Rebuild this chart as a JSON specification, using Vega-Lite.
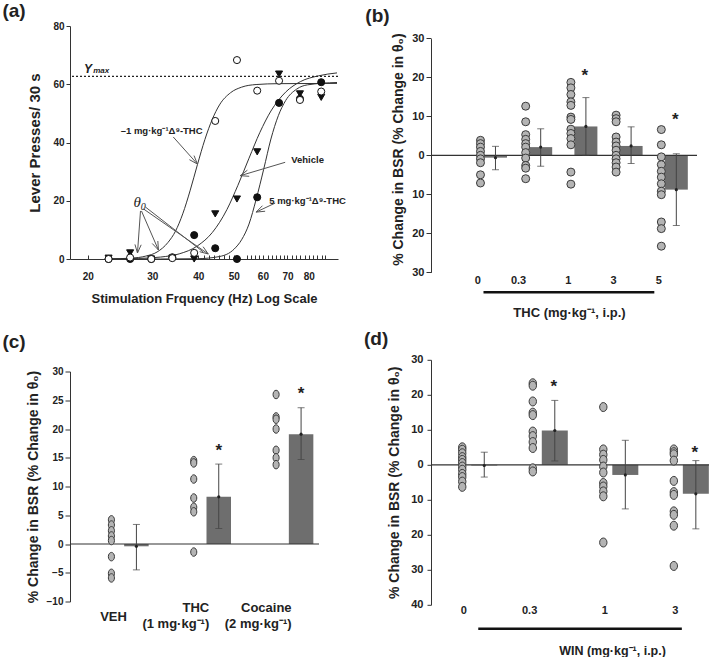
{
 "$schema": "https://vega.github.io/schema/vega-lite/v6.json",
 "padding": {"left": 2, "top": 2, "right": 0, "bottom": 0},
 "background": "white",
 "spacing": 18,
 "config": {
  "font": "Liberation Sans",
  "view": {"stroke": null},
  "axis": {"labelFont": "Liberation Sans", "labelFontWeight": "bold", "titleFont": "Liberation Sans", "titleFontWeight": "bold", "labelColor": "#222", "titleColor": "#222", "domainColor": "#333", "tickColor": "#333", "grid": false, "labelOverlap": false},
  "title": {"font": "Liberation Sans", "fontWeight": "bold", "fontSize": 19, "anchor": "start", "frame": "group", "color": "#222"}
 },
 "datasets": {
  "a_pts": [
   {"hz": 22.8, "val": 0, "group": "THC5"}, {"hz": 26.1, "val": 0, "group": "THC5"}, {"hz": 29.8, "val": 0, "group": "THC5"}, {"hz": 34.0, "val": 0.6, "group": "THC5"}, {"hz": 39.0, "val": 8.2, "group": "THC5"}, {"hz": 44.5, "val": 3.7, "group": "THC5"}, {"hz": 51.0, "val": 0, "group": "THC5"}, {"hz": 57.9, "val": 21.2, "group": "THC5"}, {"hz": 66.4, "val": 53.6, "group": "THC5"}, {"hz": 75.7, "val": 55.0, "group": "THC5"}, {"hz": 86.5, "val": 60.7, "group": "THC5"},
   {"hz": 22.8, "val": 0.3, "group": "VEH"}, {"hz": 26.1, "val": 2.1, "group": "VEH"}, {"hz": 29.8, "val": 0, "group": "VEH"}, {"hz": 34.0, "val": 0.3, "group": "VEH"}, {"hz": 39.0, "val": 0, "group": "VEH"}, {"hz": 44.5, "val": 15.5, "group": "VEH"}, {"hz": 51.0, "val": 20.6, "group": "VEH"}, {"hz": 57.9, "val": 36.8, "group": "VEH"}, {"hz": 66.4, "val": 63.5, "group": "VEH"}, {"hz": 75.7, "val": 56.7, "group": "VEH"}, {"hz": 86.5, "val": 55.5, "group": "VEH"},
   {"hz": 22.8, "val": 0, "group": "THC1"}, {"hz": 26.1, "val": 0.5, "group": "THC1"}, {"hz": 29.8, "val": 0, "group": "THC1"}, {"hz": 34.0, "val": 0.3, "group": "THC1"}, {"hz": 39.0, "val": 2.1, "group": "THC1"}, {"hz": 44.5, "val": 47.4, "group": "THC1"}, {"hz": 51.0, "val": 68.3, "group": "THC1"}, {"hz": 57.9, "val": 57.8, "group": "THC1"}, {"hz": 66.4, "val": 61.2, "group": "THC1"}, {"hz": 75.7, "val": 54.6, "group": "THC1"}, {"hz": 86.5, "val": 57.5, "group": "THC1"}
  ],
  "a_curves": [
   {"hz": 22.9, "val": 0.05, "group": "THC1"}, {"hz": 26.3, "val": 0.3, "group": "THC1"}, {"hz": 28.8, "val": 1.0, "group": "THC1"}, {"hz": 30.9, "val": 2.4, "group": "THC1"}, {"hz": 33.1, "val": 5.7, "group": "THC1"}, {"hz": 34.7, "val": 9.6, "group": "THC1"}, {"hz": 36.3, "val": 15.5, "group": "THC1"}, {"hz": 38.0, "val": 23.4, "group": "THC1"}, {"hz": 39.8, "val": 32.4, "group": "THC1"}, {"hz": 41.7, "val": 41.0, "group": "THC1"}, {"hz": 43.7, "val": 48.0, "group": "THC1"}, {"hz": 45.7, "val": 52.9, "group": "THC1"}, {"hz": 49.0, "val": 57.1, "group": "THC1"}, {"hz": 52.5, "val": 59.0, "group": "THC1"}, {"hz": 57.5, "val": 59.9, "group": "THC1"}, {"hz": 66.1, "val": 60.2, "group": "THC1"}, {"hz": 95.5, "val": 60.3, "group": "THC1"},
   {"hz": 22.9, "val": 0.04, "group": "VEH"}, {"hz": 27.5, "val": 0.21, "group": "VEH"}, {"hz": 31.6, "val": 0.67, "group": "VEH"}, {"hz": 35.5, "val": 1.76, "group": "VEH"}, {"hz": 39.8, "val": 4.5, "group": "VEH"}, {"hz": 43.7, "val": 9.1, "group": "VEH"}, {"hz": 47.9, "val": 17.0, "group": "VEH"}, {"hz": 51.3, "val": 25.3, "group": "VEH"}, {"hz": 55.0, "val": 34.6, "group": "VEH"}, {"hz": 58.9, "val": 43.5, "group": "VEH"}, {"hz": 63.1, "val": 50.8, "group": "VEH"}, {"hz": 69.2, "val": 57.3, "group": "VEH"}, {"hz": 75.9, "val": 60.9, "group": "VEH"}, {"hz": 85.1, "val": 62.9, "group": "VEH"}, {"hz": 95.5, "val": 63.9, "group": "VEH"},
   {"hz": 22.9, "val": 0, "group": "THC5"}, {"hz": 31.6, "val": 0.003, "group": "THC5"}, {"hz": 39.8, "val": 0.1, "group": "THC5"}, {"hz": 45.7, "val": 0.85, "group": "THC5"}, {"hz": 50.1, "val": 3.4, "group": "THC5"}, {"hz": 52.5, "val": 6.6, "group": "THC5"}, {"hz": 55.0, "val": 12.0, "group": "THC5"}, {"hz": 57.5, "val": 20.4, "group": "THC5"}, {"hz": 60.3, "val": 30.8, "group": "THC5"}, {"hz": 63.1, "val": 41.2, "group": "THC5"}, {"hz": 66.1, "val": 49.2, "group": "THC5"}, {"hz": 69.2, "val": 54.4, "group": "THC5"}, {"hz": 74.1, "val": 58.3, "group": "THC5"}, {"hz": 79.4, "val": 59.8, "group": "THC5"}, {"hz": 95.5, "val": 60.6, "group": "THC5"}
  ],
  "a_arrows": [
   {"hz": 34.2, "val": 41.9, "hz2": 39.8, "val2": 32.6}, {"hz": 39.8, "val": 32.6, "hz2": 38.96, "val2": 35.5}, {"hz": 39.8, "val": 32.6, "hz2": 37.85, "val2": 34.1},
   {"hz": 69.0, "val": 33.2, "hz2": 52.05, "val2": 28.6}, {"hz": 52.05, "val": 28.6, "hz2": 55.07, "val2": 28.4}, {"hz": 52.05, "val": 28.6, "hz2": 54.45, "val2": 30.5},
   {"hz": 64.8, "val": 19.2, "hz2": 57.5, "val2": 16.1}, {"hz": 57.5, "val": 16.1, "hz2": 60.85, "val2": 16.4}, {"hz": 57.5, "val": 16.1, "hz2": 59.84, "val2": 18.3},
   {"hz": 27.85, "val": 16.5, "hz2": 27.33, "val2": 2.06}, {"hz": 27.33, "val": 2.06, "hz2": 27.97, "val2": 4.88}, {"hz": 27.33, "val": 2.06, "hz2": 26.9, "val2": 5.01},
   {"hz": 28.02, "val": 16.5, "hz2": 31.17, "val2": 3.09}, {"hz": 31.17, "val": 3.09, "hz2": 31.05, "val2": 6.18}, {"hz": 31.17, "val": 3.09, "hz2": 29.98, "val2": 5.32},
   {"hz": 28.37, "val": 17.2, "hz2": 42.6, "val2": 1.72}, {"hz": 42.6, "val": 1.72, "hz2": 41.24, "val2": 4.22}, {"hz": 42.6, "val": 1.72, "hz2": 40.35, "val2": 2.51},
   {"hz": 28.72, "val": 17.85, "hz2": 41.29, "val2": 2.4}
  ],
  "b_dots": [
   {"dose": "0", "v": 3.85}, {"dose": "0", "v": 3.0}, {"dose": "0", "v": 2.1}, {"dose": "0", "v": 1.0}, {"dose": "0", "v": 0}, {"dose": "0", "v": -0.9}, {"dose": "0", "v": -1.9}, {"dose": "0", "v": -5.0}, {"dose": "0", "v": -7.1},
   {"dose": "0.3", "v": 12.6}, {"dose": "0.3", "v": 8.6}, {"dose": "0.3", "v": 5.3}, {"dose": "0.3", "v": 4.1}, {"dose": "0.3", "v": 3.0}, {"dose": "0.3", "v": 2.1}, {"dose": "0.3", "v": 0.7}, {"dose": "0.3", "v": -0.7}, {"dose": "0.3", "v": -2.6}, {"dose": "0.3", "v": -3.3}, {"dose": "0.3", "v": -6.0},
   {"dose": "1", "v": 18.7}, {"dose": "1", "v": 17.3}, {"dose": "1", "v": 15.6}, {"dose": "1", "v": 13.7}, {"dose": "1", "v": 12.8}, {"dose": "1", "v": 9.8}, {"dose": "1", "v": 9.2}, {"dose": "1", "v": 6.7}, {"dose": "1", "v": 5.6}, {"dose": "1", "v": 4.3}, {"dose": "1", "v": 2.7}, {"dose": "1", "v": -4.3}, {"dose": "1", "v": -7.4},
   {"dose": "3", "v": 10.3}, {"dose": "3", "v": 9.4}, {"dose": "3", "v": 8.6}, {"dose": "3", "v": 4.7}, {"dose": "3", "v": 3.4}, {"dose": "3", "v": 2.4}, {"dose": "3", "v": 1.3}, {"dose": "3", "v": 0}, {"dose": "3", "v": -0.9}, {"dose": "3", "v": -1.9}, {"dose": "3", "v": -3.0}, {"dose": "3", "v": -4.3},
   {"dose": "5", "v": 6.6}, {"dose": "5", "v": 2.7}, {"dose": "5", "v": -0.4}, {"dose": "5", "v": -2.4}, {"dose": "5", "v": -4.1}, {"dose": "5", "v": -5.6}, {"dose": "5", "v": -7.3}, {"dose": "5", "v": -9.2}, {"dose": "5", "v": -10.1}, {"dose": "5", "v": -17.1}, {"dose": "5", "v": -18.8}, {"dose": "5", "v": -23.3}
  ],
  "b_bars": [
   {"dose": "0", "mean": -0.6, "lo": -3.7, "hi": 2.3, "star": null},
   {"dose": "0.3", "mean": 2.1, "lo": -2.8, "hi": 6.8, "star": null},
   {"dose": "1", "mean": 7.4, "lo": 0, "hi": 14.8, "star": 21.3},
   {"dose": "3", "mean": 2.4, "lo": -2.1, "hi": 7.3, "star": null},
   {"dose": "5", "mean": -8.8, "lo": -18.0, "hi": 0.4, "star": 10.1}
  ],
  "c_dots": [
   {"g": "VEH", "v": 4.2}, {"g": "VEH", "v": 3.3}, {"g": "VEH", "v": 2.3}, {"g": "VEH", "v": 1.4}, {"g": "VEH", "v": 0.6}, {"g": "VEH", "v": -2.2}, {"g": "VEH", "v": -5.1}, {"g": "VEH", "v": -5.9},
   {"g": "THC", "v": 14.5}, {"g": "THC", "v": 14.1}, {"g": "THC", "v": 11.3}, {"g": "THC", "v": 8.0}, {"g": "THC", "v": 6.4}, {"g": "THC", "v": 5.6}, {"g": "THC", "v": -1.4},
   {"g": "Cocaine", "v": 26.0}, {"g": "Cocaine", "v": 22.1}, {"g": "Cocaine", "v": 21.7}, {"g": "Cocaine", "v": 20.0}, {"g": "Cocaine", "v": 16.3}, {"g": "Cocaine", "v": 15.0}, {"g": "Cocaine", "v": 13.8}
  ],
  "c_bars": [
   {"g": "VEH", "mean": -0.4, "lo": -4.5, "hi": 3.4, "star": null},
   {"g": "THC", "mean": 8.2, "lo": 2.7, "hi": 13.9, "star": 16.9},
   {"g": "Cocaine", "mean": 19.1, "lo": 14.7, "hi": 23.7, "star": 26.7}
  ],
  "d_dots": [
   {"dose": "0", "v": 5.0}, {"dose": "0", "v": 4.3}, {"dose": "0", "v": 3.3}, {"dose": "0", "v": 2.2}, {"dose": "0", "v": 1.4}, {"dose": "0", "v": 0.5}, {"dose": "0", "v": -0.5}, {"dose": "0", "v": -1.4}, {"dose": "0", "v": -2.6}, {"dose": "0", "v": -3.5}, {"dose": "0", "v": -4.8}, {"dose": "0", "v": -6.3},
   {"dose": "0.3", "v": 23.3}, {"dose": "0.3", "v": 22.6}, {"dose": "0.3", "v": 18.1}, {"dose": "0.3", "v": 14.9}, {"dose": "0.3", "v": 14.2}, {"dose": "0.3", "v": 9.5}, {"dose": "0.3", "v": 8.2}, {"dose": "0.3", "v": 6.5}, {"dose": "0.3", "v": 4.8}, {"dose": "0.3", "v": -1.0}, {"dose": "0.3", "v": -1.9},
   {"dose": "1", "v": 16.5}, {"dose": "1", "v": 4.4}, {"dose": "1", "v": 2.9}, {"dose": "1", "v": 1.4}, {"dose": "1", "v": -0.5}, {"dose": "1", "v": -2.2}, {"dose": "1", "v": -5.2}, {"dose": "1", "v": -6.2}, {"dose": "1", "v": -7.6}, {"dose": "1", "v": -9.0}, {"dose": "1", "v": -22.2},
   {"dose": "3", "v": 4.4}, {"dose": "3", "v": 3.6}, {"dose": "3", "v": 3.0}, {"dose": "3", "v": 1.2}, {"dose": "3", "v": -4.6}, {"dose": "3", "v": -7.8}, {"dose": "3", "v": -8.6}, {"dose": "3", "v": -13.3}, {"dose": "3", "v": -14.3}, {"dose": "3", "v": -17.4}, {"dose": "3", "v": -28.9}
  ],
  "d_bars": [
   {"dose": "0", "mean": -0.2, "lo": -3.5, "hi": 3.6, "star": null},
   {"dose": "0.3", "mean": 9.8, "lo": 1.1, "hi": 18.4, "star": 23.5},
   {"dose": "1", "mean": -2.9, "lo": -12.6, "hi": 7.0, "star": null},
   {"dose": "3", "mean": -8.3, "lo": -18.3, "hi": 1.2, "star": 4.6}
  ]
 },
 "hconcat": [
  {
   "spacing": 27.5,
   "vconcat": [
    {
     "width": 268, "height": 233,
     "title": {"text": "(a)", "dx": -67.6, "offset": 0},
     "layer": [
      {"data": {"name": "a_curves"}, "mark": {"type": "line", "color": "#333", "strokeWidth": 1, "interpolate": "monotone", "clip": true},
       "encoding": {"x": {"field": "hz", "type": "quantitative", "scale": {"type": "log", "domain": [17.9, 96.1], "nice": false}},
        "y": {"field": "val", "type": "quantitative", "scale": {"domain": [0, 80], "nice": false}},
        "detail": {"field": "group"}}},
      {"data": {"values": [{"val": 62.7}]}, "mark": {"type": "rule", "color": "#222", "strokeWidth": 1.3, "strokeDash": [2, 2]},
       "encoding": {"y": {"field": "val", "type": "quantitative", "scale": {"domain": [0, 80], "nice": false}}}},
      {"data": {"name": "a_arrows"}, "mark": {"type": "rule", "color": "#555", "strokeWidth": 1},
       "encoding": {"x": {"field": "hz", "type": "quantitative", "scale": {"type": "log", "domain": [17.9, 96.1], "nice": false}},
        "x2": {"field": "hz2"},
        "y": {"field": "val", "type": "quantitative", "scale": {"domain": [0, 80], "nice": false}},
        "y2": {"field": "val2"}}},
      {"data": {"name": "a_pts"}, "mark": {"type": "point", "size": 50, "strokeWidth": 1, "opacity": 1, "fillOpacity": 1, "stroke": "#111"},
       "encoding": {
        "x": {"field": "hz", "type": "quantitative", "scale": {"type": "log", "domain": [17.9, 96.1], "nice": false},
         "axis": {"title": "Stimulation Frquency (Hz) Log Scale", "values": [20, 30, 40, 41.6, 42.9, 44.2, 45.6, 47.1, 48.6, 50, 54.3, 55.6, 57, 58.5, 60, 62, 63.6, 65.2, 66.8, 68.5, 70, 72, 73.8, 75.7, 78.1, 80, 82.1, 84.2, 86.9, 88.5],
          "labelExpr": "indexof([20, 30, 40, 50, 60, 70, 80], datum.value) >= 0 ? '' + datum.value : ''", "labelOverlap": false, "labelFlush": false, "labelFontSize": 10, "tickSize": -4, "labelPadding": 16, "titleFontSize": 13, "titlePadding": 11}},
        "y": {"field": "val", "type": "quantitative", "scale": {"domain": [0, 80], "nice": false},
         "axis": {"title": "Lever Presses/ 30 s", "values": [0, 20, 40, 60, 80], "labelOverlap": false, "tickSize": 4, "labelPadding": 2, "labelFontSize": 10, "titleFontSize": 15, "titlePadding": 10}},
        "shape": {"field": "group", "type": "nominal", "scale": {"domain": ["THC1", "VEH", "THC5"], "range": ["circle", "triangle-down", "circle"]}, "legend": null},
        "fill": {"field": "group", "type": "nominal", "scale": {"domain": ["THC1", "VEH", "THC5"], "range": ["white", "#111", "#111"]}, "legend": null}
       }},
      {"data": {"values": [{"hz": 31.8, "val": 44.1, "label": "–1 mg·kg⁻¹Δ⁹-THC"}, {"hz": 79.4, "val": 34.0, "label": "Vehicle"}, {"hz": 79.4, "val": 20.0, "label": "5 mg·kg⁻¹Δ⁹-THC"}]},
       "mark": {"type": "text", "fontSize": 9.5, "fontWeight": "bold", "align": "center", "baseline": "middle", "color": "#222"},
       "encoding": {"x": {"field": "hz", "type": "quantitative", "scale": {"type": "log", "domain": [17.9, 96.1], "nice": false}},
        "y": {"field": "val", "type": "quantitative", "scale": {"domain": [0, 80], "nice": false}},
        "text": {"field": "label"}}},
      {"data": {"values": [{"hz": 27.3, "val": 19.4, "label": "θ"}]},
       "mark": {"type": "text", "font": "Liberation Serif", "fontSize": 15, "fontStyle": "italic", "align": "center", "baseline": "middle", "color": "#222"},
       "encoding": {"x": {"field": "hz", "type": "quantitative", "scale": {"type": "log", "domain": [17.9, 96.1], "nice": false}},
        "y": {"field": "val", "type": "quantitative", "scale": {"domain": [0, 80], "nice": false}},
        "text": {"field": "label"}}},
      {"data": {"values": [{"hz": 27.9, "val": 17.9, "label": "0"}]},
       "mark": {"type": "text", "font": "Liberation Serif", "fontSize": 10, "fontStyle": "italic", "align": "left", "baseline": "middle", "color": "#222"},
       "encoding": {"x": {"field": "hz", "type": "quantitative", "scale": {"type": "log", "domain": [17.9, 96.1], "nice": false}},
        "y": {"field": "val", "type": "quantitative", "scale": {"domain": [0, 80], "nice": false}},
        "text": {"field": "label"}}},
      {"data": {"values": [{"hz": 20.04, "val": 65.4, "label": "Y"}]},
       "mark": {"type": "text", "fontSize": 12, "fontWeight": "bold", "fontStyle": "italic", "align": "center", "baseline": "middle", "color": "#222"},
       "encoding": {"x": {"field": "hz", "type": "quantitative", "scale": {"type": "log", "domain": [17.9, 96.1], "nice": false}},
        "y": {"field": "val", "type": "quantitative", "scale": {"domain": [0, 80], "nice": false}},
        "text": {"field": "label"}}},
      {"data": {"values": [{"hz": 20.7, "val": 64.5, "label": "max"}]},
       "mark": {"type": "text", "fontSize": 8, "fontWeight": "bold", "fontStyle": "italic", "align": "left", "baseline": "middle", "color": "#222"},
       "encoding": {"x": {"field": "hz", "type": "quantitative", "scale": {"type": "log", "domain": [17.9, 96.1], "nice": false}},
        "y": {"field": "val", "type": "quantitative", "scale": {"domain": [0, 80], "nice": false}},
        "text": {"field": "label"}}}
     ]
    },
    {
     "width": 249, "height": 230,
     "title": {"text": "(c)", "dx": -67.6, "offset": 14.4},
     "layer": [
      {"data": {"name": "c_bars"}, "mark": {"type": "bar", "width": 24.5, "xOffset": 10, "color": "#6e6e6e"},
       "encoding": {"x": {"field": "g", "type": "ordinal", "scale": {"type": "point", "domain": ["VEH", "THC", "Cocaine"], "padding": 0.512, "align": 0.669}},
        "y": {"field": "mean", "type": "quantitative", "scale": {"domain": [-10, 30], "nice": false},
         "axis": {"title": "% Change in BSR (% Change in θ₀)", "values": [-10, -5, 0, 5, 10, 15, 20, 25, 30], "labelOverlap": false, "tickSize": 5, "labelPadding": 2, "labelFontSize": 10, "titleFontSize": 14, "titlePadding": 6}}}},
      {"data": {"values": [{"v": 0}]}, "mark": {"type": "rule", "color": "#333", "strokeWidth": 1.2},
       "encoding": {"y": {"field": "v", "type": "quantitative", "scale": {"domain": [-10, 30], "nice": false},
         "axis": {"title": "% Change in BSR (% Change in θ₀)", "values": [-10, -5, 0, 5, 10, 15, 20, 25, 30], "labelOverlap": false, "tickSize": 5, "labelPadding": 2, "labelFontSize": 10, "titleFontSize": 14, "titlePadding": 6}}}},
      {"data": {"name": "c_bars"}, "mark": {"type": "rule", "xOffset": 10, "color": "#444", "strokeWidth": 1},
       "encoding": {"x": {"field": "g", "type": "ordinal", "scale": {"type": "point", "domain": ["VEH", "THC", "Cocaine"], "padding": 0.512, "align": 0.669}},
        "y": {"field": "lo", "type": "quantitative", "scale": {"domain": [-10, 30], "nice": false},
         "axis": {"title": "% Change in BSR (% Change in θ₀)", "values": [-10, -5, 0, 5, 10, 15, 20, 25, 30], "labelOverlap": false, "tickSize": 5, "labelPadding": 2, "labelFontSize": 10, "titleFontSize": 14, "titlePadding": 6}},
        "y2": {"field": "hi"}}},
      {"data": {"name": "c_bars"}, "transform": [{"fold": ["lo", "hi"], "as": ["k", "ev"]}],
       "mark": {"type": "tick", "size": 7, "thickness": 1, "xOffset": 10, "color": "#444"},
       "encoding": {"x": {"field": "g", "type": "ordinal", "scale": {"type": "point", "domain": ["VEH", "THC", "Cocaine"], "padding": 0.512, "align": 0.669}},
        "y": {"field": "ev", "type": "quantitative", "scale": {"domain": [-10, 30], "nice": false},
         "axis": {"title": "% Change in BSR (% Change in θ₀)", "values": [-10, -5, 0, 5, 10, 15, 20, 25, 30], "labelOverlap": false, "tickSize": 5, "labelPadding": 2, "labelFontSize": 10, "titleFontSize": 14, "titlePadding": 6}}}},
      {"data": {"name": "c_bars"}, "mark": {"type": "point", "filled": true, "size": 10, "color": "#222", "opacity": 1, "xOffset": 10},
       "encoding": {"x": {"field": "g", "type": "ordinal", "scale": {"type": "point", "domain": ["VEH", "THC", "Cocaine"], "padding": 0.512, "align": 0.669}},
        "y": {"field": "mean", "type": "quantitative", "scale": {"domain": [-10, 30], "nice": false},
         "axis": {"title": "% Change in BSR (% Change in θ₀)", "values": [-10, -5, 0, 5, 10, 15, 20, 25, 30], "labelOverlap": false, "tickSize": 5, "labelPadding": 2, "labelFontSize": 10, "titleFontSize": 14, "titlePadding": 6}}}},
      {"data": {"name": "c_dots"}, "mark": {"type": "point", "shape": "M-0.72,0A0.72,1,0,1,1,0.72,0A0.72,1,0,1,1,-0.72,0Z", "filled": true, "size": 72, "fill": "#b4b4b4", "stroke": "#3a3a3a", "strokeWidth": 1, "opacity": 1, "xOffset": -15},
       "encoding": {"x": {"field": "g", "type": "ordinal", "scale": {"type": "point", "domain": ["VEH", "THC", "Cocaine"], "padding": 0.512, "align": 0.669},
         "axis": {"title": null, "domain": false, "ticks": false, "tickSize": 0, "labelAngle": 0, "labelFontSize": 13, "labelBaseline": "middle", "labelLineHeight": 16.6,
          "labelPadding": {"condition": {"test": "datum.value === 'VEH'", "value": 14.7}, "value": 5.7},
          "labelExpr": "datum.value == 'THC' ? ['THC', '(1 mg·kg⁻¹)'] : datum.value == 'Cocaine' ? ['Cocaine', '(2 mg·kg⁻¹)'] : datum.value"}},
        "y": {"field": "v", "type": "quantitative", "scale": {"domain": [-10, 30], "nice": false},
         "axis": {"title": "% Change in BSR (% Change in θ₀)", "values": [-10, -5, 0, 5, 10, 15, 20, 25, 30], "labelOverlap": false, "tickSize": 5, "labelPadding": 2, "labelFontSize": 10, "titleFontSize": 14, "titlePadding": 6}}}},
      {"data": {"name": "c_bars"}, "transform": [{"filter": "isValid(datum.star)"}],
       "mark": {"type": "text", "text": "*", "fontSize": 17, "fontWeight": "bold", "xOffset": 10, "baseline": "alphabetic", "dy": 9, "color": "#222"},
       "encoding": {"x": {"field": "g", "type": "ordinal", "scale": {"type": "point", "domain": ["VEH", "THC", "Cocaine"], "padding": 0.512, "align": 0.669}},
        "y": {"field": "star", "type": "quantitative", "scale": {"domain": [-10, 30], "nice": false},
         "axis": {"title": "% Change in BSR (% Change in θ₀)", "values": [-10, -5, 0, 5, 10, 15, 20, 25, 30], "labelOverlap": false, "tickSize": 5, "labelPadding": 2, "labelFontSize": 10, "titleFontSize": 14, "titlePadding": 6}}}}
     ]
    }
   ]
  },
  {
   "spacing": 9.8,
   "vconcat": [
    {
     "width": 266, "height": 246.3,
     "title": {"text": "(b)", "dx": -65.7, "offset": 0},
     "layer": [
      {"data": {"name": "b_bars"}, "mark": {"type": "bar", "width": 23, "xOffset": 15, "color": "#6e6e6e"},
       "encoding": {"x": {"field": "dose", "type": "ordinal", "scale": {"type": "point", "domain": ["0", "0.3", "1", "3", "5"], "padding": 0.942, "align": 0.581}},
        "y": {"field": "mean", "type": "quantitative", "scale": {"domain": [-30, 33.16], "nice": false},
         "axis": {"title": "% Change in BSR (% Change in θ₀)", "values": [-30, -20, -10, 0, 10, 20, 30], "labelExpr": "'' + abs(datum.value)", "labelOverlap": false, "domainDash": [233.7, 40], "tickSize": 5, "labelPadding": 2, "labelFontSize": 11, "titleFontSize": 14, "titlePadding": 6}}}},
      {"data": {"values": [{"v": 0}]}, "mark": {"type": "rule", "color": "#333", "strokeWidth": 1.2},
       "encoding": {"y": {"field": "v", "type": "quantitative", "scale": {"domain": [-30, 33.16], "nice": false},
         "axis": {"title": "% Change in BSR (% Change in θ₀)", "values": [-30, -20, -10, 0, 10, 20, 30], "labelExpr": "'' + abs(datum.value)", "labelOverlap": false, "domainDash": [233.7, 40], "tickSize": 5, "labelPadding": 2, "labelFontSize": 11, "titleFontSize": 14, "titlePadding": 6}}}},
      {"data": {"name": "b_bars"}, "mark": {"type": "rule", "xOffset": 15, "color": "#444", "strokeWidth": 1},
       "encoding": {"x": {"field": "dose", "type": "ordinal", "scale": {"type": "point", "domain": ["0", "0.3", "1", "3", "5"], "padding": 0.942, "align": 0.581}},
        "y": {"field": "lo", "type": "quantitative", "scale": {"domain": [-30, 33.16], "nice": false},
         "axis": {"title": "% Change in BSR (% Change in θ₀)", "values": [-30, -20, -10, 0, 10, 20, 30], "labelExpr": "'' + abs(datum.value)", "labelOverlap": false, "domainDash": [233.7, 40], "tickSize": 5, "labelPadding": 2, "labelFontSize": 11, "titleFontSize": 14, "titlePadding": 6}},
        "y2": {"field": "hi"}}},
      {"data": {"name": "b_bars"}, "transform": [{"fold": ["lo", "hi"], "as": ["k", "ev"]}],
       "mark": {"type": "tick", "size": 7, "thickness": 1, "xOffset": 15, "color": "#444"},
       "encoding": {"x": {"field": "dose", "type": "ordinal", "scale": {"type": "point", "domain": ["0", "0.3", "1", "3", "5"], "padding": 0.942, "align": 0.581}},
        "y": {"field": "ev", "type": "quantitative", "scale": {"domain": [-30, 33.16], "nice": false},
         "axis": {"title": "% Change in BSR (% Change in θ₀)", "values": [-30, -20, -10, 0, 10, 20, 30], "labelExpr": "'' + abs(datum.value)", "labelOverlap": false, "domainDash": [233.7, 40], "tickSize": 5, "labelPadding": 2, "labelFontSize": 11, "titleFontSize": 14, "titlePadding": 6}}}},
      {"data": {"name": "b_bars"}, "mark": {"type": "point", "filled": true, "size": 10, "color": "#222", "opacity": 1, "xOffset": 15},
       "encoding": {"x": {"field": "dose", "type": "ordinal", "scale": {"type": "point", "domain": ["0", "0.3", "1", "3", "5"], "padding": 0.942, "align": 0.581}},
        "y": {"field": "mean", "type": "quantitative", "scale": {"domain": [-30, 33.16], "nice": false},
         "axis": {"title": "% Change in BSR (% Change in θ₀)", "values": [-30, -20, -10, 0, 10, 20, 30], "labelExpr": "'' + abs(datum.value)", "labelOverlap": false, "domainDash": [233.7, 40], "tickSize": 5, "labelPadding": 2, "labelFontSize": 11, "titleFontSize": 14, "titlePadding": 6}}}},
      {"data": {"name": "b_dots"}, "mark": {"type": "point", "shape": "circle", "filled": true, "size": 64, "fill": "#b4b4b4", "stroke": "#3a3a3a", "strokeWidth": 1, "opacity": 1},
       "encoding": {"x": {"field": "dose", "type": "ordinal", "scale": {"type": "point", "domain": ["0", "0.3", "1", "3", "5"], "padding": 0.942, "align": 0.581},
         "axis": {"title": "THC (mg·kg⁻¹, i.p.)", "domain": false, "ticks": false, "tickSize": 0, "labelAngle": 0, "labelFontSize": 11, "labelPadding": 8, "titleFontSize": 13, "titlePadding": 21.2, "titleX": 138}},
        "y": {"field": "v", "type": "quantitative", "scale": {"domain": [-30, 33.16], "nice": false},
         "axis": {"title": "% Change in BSR (% Change in θ₀)", "values": [-30, -20, -10, 0, 10, 20, 30], "labelExpr": "'' + abs(datum.value)", "labelOverlap": false, "domainDash": [233.7, 40], "tickSize": 5, "labelPadding": 2, "labelFontSize": 11, "titleFontSize": 14, "titlePadding": 6}}}},
      {"data": {"name": "b_bars"}, "transform": [{"filter": "isValid(datum.star)"}],
       "mark": {"type": "text", "text": "*", "fontSize": 17, "fontWeight": "bold", "xOffset": 14, "baseline": "alphabetic", "dy": 9, "color": "#222"},
       "encoding": {"x": {"field": "dose", "type": "ordinal", "scale": {"type": "point", "domain": ["0", "0.3", "1", "3", "5"], "padding": 0.942, "align": 0.581}},
        "y": {"field": "star", "type": "quantitative", "scale": {"domain": [-30, 33.16], "nice": false},
         "axis": {"title": "% Change in BSR (% Change in θ₀)", "values": [-30, -20, -10, 0, 10, 20, 30], "labelExpr": "'' + abs(datum.value)", "labelOverlap": false, "domainDash": [233.7, 40], "tickSize": 5, "labelPadding": 2, "labelFontSize": 11, "titleFontSize": 14, "titlePadding": 6}}}},
      {"data": {"values": [{}]}, "mark": {"type": "rule", "strokeWidth": 2.5, "color": "#111", "xOffset": 3, "x2Offset": -7, "yOffset": 20},
       "encoding": {"x": {"datum": "0", "type": "ordinal", "scale": {"type": "point", "domain": ["0", "0.3", "1", "3", "5"], "padding": 0.942, "align": 0.581}},
        "x2": {"datum": "5"},
        "y": {"datum": -30, "type": "quantitative", "scale": {"domain": [-30, 33.16], "nice": false},
         "axis": {"title": "% Change in BSR (% Change in θ₀)", "values": [-30, -20, -10, 0, 10, 20, 30], "labelExpr": "'' + abs(datum.value)", "labelOverlap": false, "domainDash": [233.7, 40], "tickSize": 5, "labelPadding": 2, "labelFontSize": 11, "titleFontSize": 14, "titlePadding": 6}}}}
     ]
    },
    {
     "width": 279, "height": 245,
     "title": {"text": "(d)", "dx": -67, "offset": 4.9},
     "layer": [
      {"data": {"name": "d_bars"}, "mark": {"type": "bar", "width": 26, "xOffset": 18, "color": "#6e6e6e"},
       "encoding": {"x": {"field": "dose", "type": "ordinal", "scale": {"type": "point", "domain": ["0", "0.3", "1", "3"], "padding": 0.478, "align": 0.523}},
        "y": {"field": "mean", "type": "quantitative", "scale": {"domain": [-40, 30], "nice": false},
         "axis": {"title": "% Change in BSR (% Change in θ₀)", "values": [-40, -30, -20, -10, 0, 10, 20, 30], "labelExpr": "'' + abs(datum.value)", "labelOverlap": false, "tickSize": 4, "labelPadding": 4, "labelFontSize": 11, "titleFontSize": 14, "titlePadding": 9}}}},
      {"data": {"values": [{"v": 0}]}, "mark": {"type": "rule", "color": "#333", "strokeWidth": 1.2},
       "encoding": {"y": {"field": "v", "type": "quantitative", "scale": {"domain": [-40, 30], "nice": false},
         "axis": {"title": "% Change in BSR (% Change in θ₀)", "values": [-40, -30, -20, -10, 0, 10, 20, 30], "labelExpr": "'' + abs(datum.value)", "labelOverlap": false, "tickSize": 4, "labelPadding": 4, "labelFontSize": 11, "titleFontSize": 14, "titlePadding": 9}}}},
      {"data": {"name": "d_bars"}, "mark": {"type": "rule", "xOffset": 18, "color": "#444", "strokeWidth": 1},
       "encoding": {"x": {"field": "dose", "type": "ordinal", "scale": {"type": "point", "domain": ["0", "0.3", "1", "3"], "padding": 0.478, "align": 0.523}},
        "y": {"field": "lo", "type": "quantitative", "scale": {"domain": [-40, 30], "nice": false},
         "axis": {"title": "% Change in BSR (% Change in θ₀)", "values": [-40, -30, -20, -10, 0, 10, 20, 30], "labelExpr": "'' + abs(datum.value)", "labelOverlap": false, "tickSize": 4, "labelPadding": 4, "labelFontSize": 11, "titleFontSize": 14, "titlePadding": 9}},
        "y2": {"field": "hi"}}},
      {"data": {"name": "d_bars"}, "transform": [{"fold": ["lo", "hi"], "as": ["k", "ev"]}],
       "mark": {"type": "tick", "size": 7, "thickness": 1, "xOffset": 18, "color": "#444"},
       "encoding": {"x": {"field": "dose", "type": "ordinal", "scale": {"type": "point", "domain": ["0", "0.3", "1", "3"], "padding": 0.478, "align": 0.523}},
        "y": {"field": "ev", "type": "quantitative", "scale": {"domain": [-40, 30], "nice": false},
         "axis": {"title": "% Change in BSR (% Change in θ₀)", "values": [-40, -30, -20, -10, 0, 10, 20, 30], "labelExpr": "'' + abs(datum.value)", "labelOverlap": false, "tickSize": 4, "labelPadding": 4, "labelFontSize": 11, "titleFontSize": 14, "titlePadding": 9}}}},
      {"data": {"name": "d_bars"}, "mark": {"type": "point", "filled": true, "size": 10, "color": "#222", "opacity": 1, "xOffset": 18},
       "encoding": {"x": {"field": "dose", "type": "ordinal", "scale": {"type": "point", "domain": ["0", "0.3", "1", "3"], "padding": 0.478, "align": 0.523}},
        "y": {"field": "mean", "type": "quantitative", "scale": {"domain": [-40, 30], "nice": false},
         "axis": {"title": "% Change in BSR (% Change in θ₀)", "values": [-40, -30, -20, -10, 0, 10, 20, 30], "labelExpr": "'' + abs(datum.value)", "labelOverlap": false, "tickSize": 4, "labelPadding": 4, "labelFontSize": 11, "titleFontSize": 14, "titlePadding": 9}}}},
      {"data": {"name": "d_dots"}, "mark": {"type": "point", "shape": "M-0.82,0A0.82,1,0,1,1,0.82,0A0.82,1,0,1,1,-0.82,0Z", "filled": true, "size": 81, "fill": "#b4b4b4", "stroke": "#3a3a3a", "strokeWidth": 1, "opacity": 1, "xOffset": -4},
       "encoding": {"x": {"field": "dose", "type": "ordinal", "scale": {"type": "point", "domain": ["0", "0.3", "1", "3"], "padding": 0.478, "align": 0.523},
         "axis": {"title": "WIN (mg·kg⁻¹, i.p.)", "domain": false, "ticks": false, "tickSize": 0, "labelAngle": 0, "labelFontSize": 11, "labelPadding": 6, "titleFontSize": 12.5, "titlePadding": 28.5, "titleX": 181}},
        "y": {"field": "v", "type": "quantitative", "scale": {"domain": [-40, 30], "nice": false},
         "axis": {"title": "% Change in BSR (% Change in θ₀)", "values": [-40, -30, -20, -10, 0, 10, 20, 30], "labelExpr": "'' + abs(datum.value)", "labelOverlap": false, "tickSize": 4, "labelPadding": 4, "labelFontSize": 11, "titleFontSize": 14, "titlePadding": 9}}}},
      {"data": {"name": "d_bars"}, "transform": [{"filter": "isValid(datum.star)"}],
       "mark": {"type": "text", "text": "*", "fontSize": 17, "fontWeight": "bold", "xOffset": 17, "baseline": "alphabetic", "dy": 9, "color": "#222"},
       "encoding": {"x": {"field": "dose", "type": "ordinal", "scale": {"type": "point", "domain": ["0", "0.3", "1", "3"], "padding": 0.478, "align": 0.523}},
        "y": {"field": "star", "type": "quantitative", "scale": {"domain": [-40, 30], "nice": false},
         "axis": {"title": "% Change in BSR (% Change in θ₀)", "values": [-40, -30, -20, -10, 0, 10, 20, 30], "labelExpr": "'' + abs(datum.value)", "labelOverlap": false, "tickSize": 4, "labelPadding": 4, "labelFontSize": 11, "titleFontSize": 14, "titlePadding": 9}}}},
      {"data": {"values": [{}]}, "mark": {"type": "rule", "strokeWidth": 2.5, "color": "#111", "xOffset": 12, "x2Offset": 4, "yOffset": 24},
       "encoding": {"x": {"datum": "0", "type": "ordinal", "scale": {"type": "point", "domain": ["0", "0.3", "1", "3"], "padding": 0.478, "align": 0.523}},
        "x2": {"datum": "3"},
        "y": {"datum": -40, "type": "quantitative", "scale": {"domain": [-40, 30], "nice": false},
         "axis": {"title": "% Change in BSR (% Change in θ₀)", "values": [-40, -30, -20, -10, 0, 10, 20, 30], "labelExpr": "'' + abs(datum.value)", "labelOverlap": false, "tickSize": 4, "labelPadding": 4, "labelFontSize": 11, "titleFontSize": 14, "titlePadding": 9}}}}
     ]
    }
   ]
  }
 ]
}
